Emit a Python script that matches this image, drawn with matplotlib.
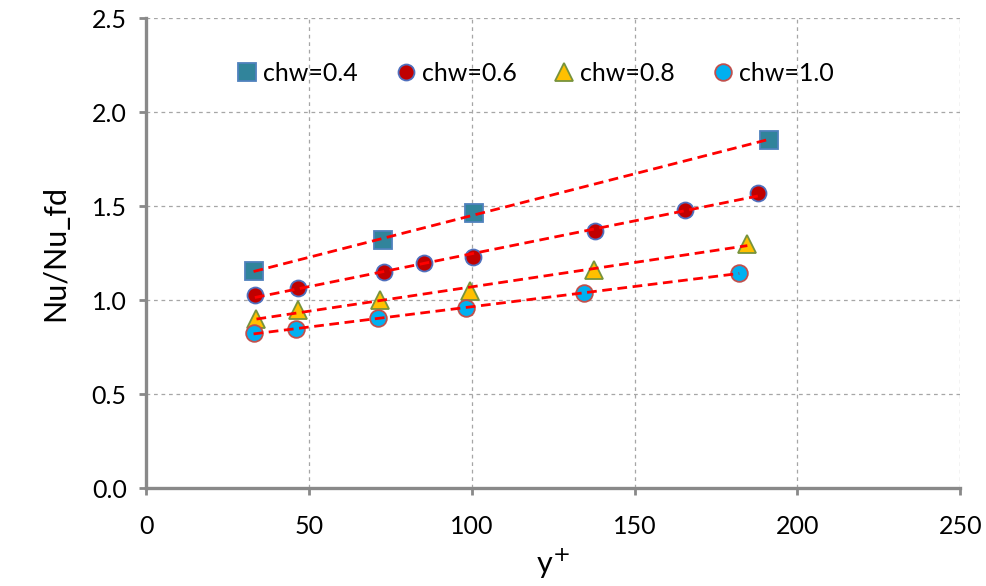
import matplotlib.pyplot as plt
import numpy as np

plt.rcParams['font.family'] = ['Lato', 'DejaVu Sans']

x_04 = [33.0, 72.7, 100.7, 191.4]
y_04 = [1.154, 1.318, 1.464, 1.854]
x_06 = [33.4, 46.7, 73.0, 85.4, 100.3, 137.8, 165.4, 187.8]
y_06 = [1.027, 1.062, 1.152, 1.196, 1.229, 1.366, 1.479, 1.568]
x_08 = [33.9, 46.7, 71.8, 99.5, 137.4, 184.6]
y_08 = [0.898, 0.946, 1.000, 1.050, 1.163, 1.300]
x_10 = [33.0, 46.0, 71.3, 98.1, 134.4, 182.1]
y_10 = [0.823, 0.848, 0.904, 0.957, 1.037, 1.145]

series = [
    ("chw=0.4", x_04, y_04, "s", "#31849B", "#4F81BD", 13),
    ("chw=0.6", x_06, y_06, "o", "#C00000", "#4F6FBD", 11.5),
    ("chw=0.8", x_08, y_08, "^", "#FFC000", "#77933C", 13),
    ("chw=1.0", x_10, y_10, "o", "#00B0F0", "#C0504D", 12),
]

fig = plt.figure(figsize=(9.87, 5.86), dpi=100)
ax = fig.add_axes([0.148, 0.167, 0.825, 0.802])

for lab, xs, ys, mk, fc, ec, ms in series:
    ax.plot(xs, ys, linestyle="none", marker=mk, markersize=ms,
            markerfacecolor=fc, markeredgecolor=ec, markeredgewidth=1.3,
            label=lab, zorder=3)
    # linear trend line like excel
    k, b = np.polyfit(xs, ys, 1)
    xx = np.array([min(xs), max(xs)])
    ax.plot(xx, k * xx + b, color="#FF0000", linestyle=(0, (3.5, 2)),
            linewidth=2.0, zorder=4)

ax.set_xlim(0, 250)
ax.set_ylim(0, 2.5)
ax.set_xticks(np.arange(0, 251, 50))
ax.set_yticks(np.arange(0, 2.51, 0.5))
ax.yaxis.set_major_formatter(plt.FormatStrFormatter('%.1f'))

ax.grid(True, color="#A6A6A6", linestyle=(0, (3, 3)), linewidth=0.9)
ax.set_axisbelow(True)
for s in ["top", "right"]:
    ax.spines[s].set_visible(False)
for s in ["left", "bottom"]:
    ax.spines[s].set_color("#898989")
    ax.spines[s].set_linewidth(2.4)
ax.tick_params(axis="both", colors="#898989", width=2.0, length=5,
               labelcolor="black", labelsize=18)
ax.tick_params(axis="x", pad=14)
ax.tick_params(axis="y", pad=9)

ax.set_xlabel("y$^{+}$", fontsize=22, labelpad=7)
ax.set_ylabel("Nu/Nu_fd", fontsize=22, labelpad=16)

ax.legend(loc="upper center", bbox_to_anchor=(0.475, 0.955), ncol=4,
          frameon=False, fontsize=18, handletextpad=0.05,
          columnspacing=1.3, handlelength=1.2)

fig.savefig("out.png", dpi=100)
